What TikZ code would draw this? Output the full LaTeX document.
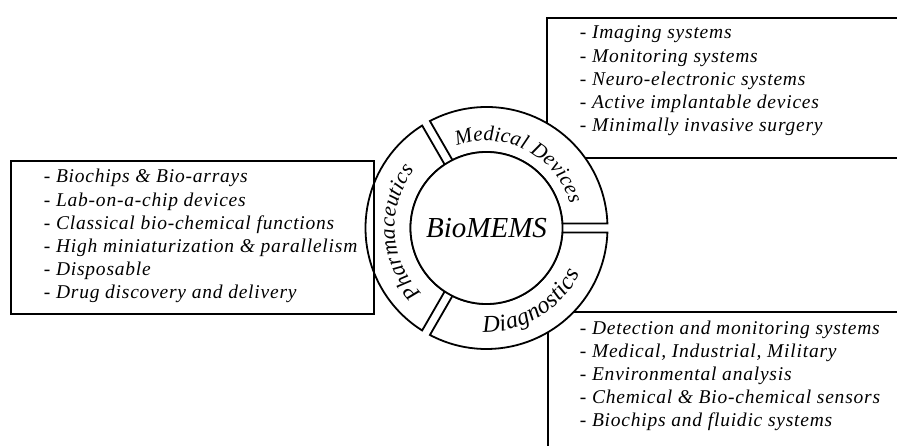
\documentclass[tikz,border=0pt]{standalone}
\usepackage{fontspec}
\setmainfont{Liberation Serif}
\newfontfamily\listfont[LetterSpace=4]{Liberation Serif}
\usepackage{tikz}
\usetikzlibrary{calc,decorations.text,positioning}
\newcommand\ringfont{\fontsize{21}{25}\selectfont\itshape}
\newcommand\phafont{\fontsize{22}{26}\selectfont\itshape}
\newcommand\diagfont{\fontsize{24}{28}\selectfont\itshape}

\begin{document}
\begin{tikzpicture}[x=1pt, y=1pt, line width=1.8pt,
  listbox/.style={draw, rectangle, inner sep=0pt, anchor=north west},
  item/.style={anchor=base west, inner sep=0pt, font=\listfont\itshape\fontsize{19.5}{23}\selectfont},
  segment/.style={draw, fill=white, line join=miter},
  core/.style={circle, draw, fill=white, minimum size=152, inner sep=0pt, font=\fontsize{29}{32}\selectfont\itshape},
  ringtext/.style={decorate, decoration={text along path, text align=fit to path, text={#1}}}]
  \useasboundingbox (0,0) rectangle (897,446);
  \clip (0,0) rectangle (897,446);

  % boxes on the right
  \node[listbox, minimum width=374, minimum height=140] (medbox) at (546,429) {};
  \node[listbox, minimum width=373, minimum height=160] (diabox) at (547,135) {};

  % ring
  \coordinate (hub) at (486.5,218);
  \foreach \a in {0,120,240}
    \draw[segment] ($(hub)+({\a+2.13}:121)$) arc[start angle=\a+2.13, end angle=\a+117.87, radius=121]
      -- ($(hub)+({\a+116.61}:76)$) arc[start angle=\a+116.61, end angle=\a+3.39, radius=76] -- cycle;
  \node[core] (core) at (hub) {BioMEMS};

  \path[ringtext={|\ringfont|Medical Devices}] ($(hub)+(110:87)$) arc[start angle=110, end angle=16, radius=87];
  \path[ringtext={|\phafont|Pharmaceutics}] ($(hub)+(225:92)$) arc[start angle=225, end angle=141, radius=92];
  \path[ringtext={|\diagfont|Diagnostics}] ($(hub)+(268:104)$) arc[start angle=268, end angle=334, radius=104];

  % box on the left
  \node[listbox, minimum width=363, minimum height=153] (phabox) at (10,286) {};

  \foreach \t [count=\i from 0] in {Imaging systems, Monitoring systems, Neuro-electronic systems,
      Active implantable devices, Minimally invasive surgery}
    \node[item] (med\i) at (579, 407-23.2*\i) {- \t};
  \foreach \t [count=\i from 0] in {Biochips \& Bio-arrays, Lab-on-a-chip devices, Classical bio-chemical functions,
      High miniaturization \& parallelism, Disposable, Drug discovery and delivery}
    \node[item] (pha\i) at (43, 263-23.2*\i) {- \t};
  \foreach \t [count=\i from 0] in {Detection and monitoring systems, {Medical, Industrial, Military},
      Environmental analysis, Chemical \& Bio-chemical sensors, Biochips and fluidic systems}
    \node[item] (dia\i) at (579, 111-23*\i) {- \t};
\end{tikzpicture}
\end{document}
